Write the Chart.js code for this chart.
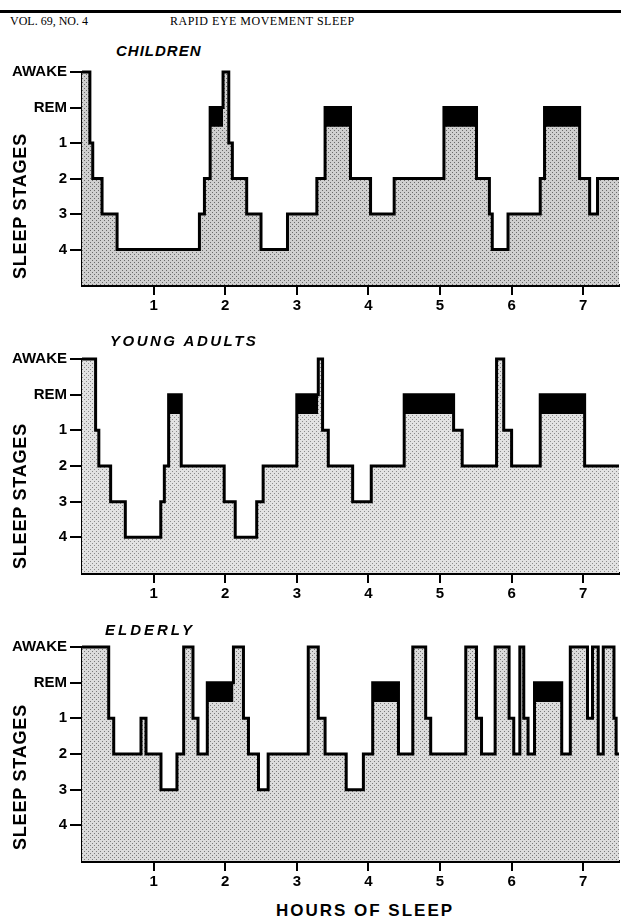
<!DOCTYPE html>
<html>
<head>
<meta charset="utf-8">
<title>Rapid eye movement sleep</title>
<script src="https://cdn.jsdelivr.net/npm/chart.js@4.4.1/dist/chart.umd.min.js"></script>
<style>
  body { margin: 0; background: #fff; }
  #page { position: relative; width: 621px; height: 920px; overflow: hidden; color: #000;
          font-family: "Liberation Sans", Arial, sans-serif; }
  .rule { position: absolute; left: 0; top: 10px; width: 621px; height: 3px; background: #000; }
  .head { position: absolute; top: 14px; font-family: "Liberation Serif", serif; font-size: 12px; line-height: 14px; }
  .panelTitle { position: absolute; font-weight: bold; font-style: italic; font-size: 15px; line-height: 16px; z-index: 2; }
  .axisTitle { position: absolute; font-weight: bold; white-space: nowrap; z-index: 2; }
  .ytitle { font-size: 18px; letter-spacing: 0.8px; transform: translate(-50%, -50%) rotate(-90deg); }
  .xtitle { font-size: 17px; letter-spacing: 2px; transform: translate(-50%, -50%); }
  canvas { position: absolute; left: 0; }
</style>
</head>
<body>
<div id="page">
  <div class="rule"></div>
  <div class="head" style="left:10px">VOL. 69, NO. 4</div>
  <div class="head" style="left:170px; letter-spacing:0.5px">RAPID EYE MOVEMENT SLEEP</div>

  <div class="panelTitle" style="left:116px; top:43px; letter-spacing:1px">CHILDREN</div>
  <div class="panelTitle" style="left:110px; top:333px; letter-spacing:2.5px">YOUNG ADULTS</div>
  <div class="panelTitle" style="left:105px; top:622px; letter-spacing:3px">ELDERLY</div>

  <div class="axisTitle ytitle" style="left:20px; top:206px">SLEEP STAGES</div>
  <div class="axisTitle ytitle" style="left:20px; top:496px">SLEEP STAGES</div>
  <div class="axisTitle ytitle" style="left:20px; top:777px">SLEEP STAGES</div>
  <div class="axisTitle xtitle" style="left:365px; top:911px">HOURS OF SLEEP</div>

  <canvas id="children" width="621" height="257" style="top:60px"></canvas>
  <canvas id="young" width="621" height="258" style="top:347px"></canvas>
  <canvas id="elderly" width="621" height="258" style="top:635px"></canvas>
</div>

<script>
// Axis categories and ticks
const stageLabels = ['AWAKE', 'REM', '1', '2', '3', '4'];
const hourTicks = [1, 2, 3, 4, 5, 6, 7];
const hoursMax = 7.5;

// Each night: the hour a stage starts, and the stage (held until the next entry)
const childrenTimes = [0, 0.11, 0.15, 0.28, 0.49, 1.64, 1.71, 1.79, 1.97, 2.05, 2.10, 2.30, 2.50, 2.87,
  3.28, 3.395, 3.75, 4.03, 4.36, 5.055, 5.51, 5.69, 5.73, 5.95, 6.40, 6.46, 6.95, 7.09, 7.20];
const childrenStages = ['AWAKE', '1', '2', '3', '4', '3', '2', 'REM', 'AWAKE', '1', '2', '3', '4', '3',
  '2', 'REM', '2', '3', '2', 'REM', '2', '3', '4', '3', '2', 'REM', '2', '3', '2'];

const youngTimes = [0, 0.19, 0.235, 0.40, 0.605, 1.10, 1.15, 1.21, 1.386, 1.986, 2.14, 2.44, 2.53, 3.0,
  3.30, 3.36, 3.44, 3.78, 4.04, 4.50, 5.19, 5.31, 5.79, 5.89, 6.0, 6.40, 7.02];
const youngStages = ['AWAKE', '1', '2', '3', '4', '3', '2', 'REM', '2', '3', '4', '3', '2', 'REM',
  'AWAKE', '1', '2', '3', '2', 'REM', '1', '2', 'AWAKE', '1', '2', 'REM', '2'];

const elderlyTimes = [0, 0.373, 0.443, 0.824, 0.894, 1.103, 1.326, 1.42, 1.55, 1.62, 1.75, 2.115, 2.255,
  2.325, 2.465, 2.60, 3.16, 3.30, 3.395, 3.69, 3.93, 4.06, 4.42, 4.62, 4.80, 4.87, 5.36, 5.51, 5.58,
  5.77, 5.965, 6.03, 6.115, 6.17, 6.23, 6.32, 6.70, 6.82, 7.06, 7.13, 7.21, 7.28, 7.43, 7.46];
const elderlyStages = ['AWAKE', '1', '2', '1', '2', '3', '2', 'AWAKE', '1', '2', 'REM', 'AWAKE', '1',
  '2', '3', '2', 'AWAKE', '1', '2', '3', '2', 'REM', '2', 'AWAKE', '1', '2', 'AWAKE', '1', '2',
  'AWAKE', '1', '2', 'AWAKE', '1', '2', 'REM', '2', 'AWAKE', '1', 'AWAKE', '2', 'AWAKE', '1', '2'];

// how far the black REM band reaches down from the REM line
const REM_BAND = 0.54;

Chart.defaults.font.family = '"Liberation Sans", Arial, sans-serif';
Chart.defaults.color = '#000';

// --- helpers ---

function stipple(ctx, bg, dot) {
  const tile = document.createElement('canvas');
  tile.width = 4;
  tile.height = 4;
  const g = tile.getContext('2d');
  g.fillStyle = bg;
  g.fillRect(0, 0, 4, 4);
  g.fillStyle = dot;
  g.fillRect(0, 0, 1, 1);
  g.fillRect(2, 2, 1, 1);
  return ctx.createPattern(tile, 'repeat');
}

function hypnogram(times, stages) {
  const pts = times.map((t, i) => ({ x: t, y: stageLabels.indexOf(stages[i]) }));
  pts.push({ x: hoursMax, y: pts[pts.length - 1].y });
  return pts;
}

function remPeriods(times, stages) {
  const out = [];
  stages.forEach((s, i) => {
    if (s === 'REM') out.push([times[i], i + 1 < times.length ? times[i + 1] : hoursMax]);
  });
  return out;
}

function drawPanel(id, times, stages, bg, dot) {
  const canvas = document.getElementById(id);
  const ctx = canvas.getContext('2d');

  const datasets = [{
    data: hypnogram(times, stages),
    stepped: true,
    borderColor: '#000',
    borderWidth: 3,
    borderJoinStyle: 'miter',
    backgroundColor: stipple(ctx, bg, dot),
    fill: { value: 6 },
    pointRadius: 0,
    clip: 6,
    order: 2
  }];

  // black REM bands on top of the stippled area
  remPeriods(times, stages).forEach(([start, end]) => {
    datasets.push({
      data: [{ x: start, y: 1 }, { x: end, y: 1 }],
      borderColor: '#000',
      borderWidth: 1,
      backgroundColor: '#000',
      fill: { value: 1 + REM_BAND },
      pointRadius: 0,
      clip: 6,
      order: 1
    });
  });

  return new Chart(ctx, {
    type: 'line',
    data: { datasets },
    options: {
      responsive: false,
      animation: false,
      events: [],
      layout: { padding: { top: 12, right: 2, left: 0, bottom: 0 } },
      plugins: { legend: { display: false }, tooltip: { enabled: false } },
      scales: {
        x: {
          type: 'linear',
          min: 0,
          max: hoursMax,
          afterBuildTicks: s => { s.ticks = hourTicks.map(v => ({ value: v })); },
          afterFit: s => { s.height = 32; },
          grid: { drawOnChartArea: false, tickLength: 10, color: '#000', lineWidth: 2 },
          border: { color: '#000', width: 3 },
          ticks: { font: { size: 15, weight: 'bold' }, padding: 2, maxRotation: 0 }
        },
        y: {
          type: 'linear',
          min: 0,
          max: 6,
          reverse: true,
          afterBuildTicks: s => { s.ticks = stageLabels.map((l, i) => ({ value: i })); },
          afterFit: s => { s.width = 82; },
          grid: { drawOnChartArea: false, tickLength: 12, color: '#000', lineWidth: 2 },
          border: { color: '#000', width: 3 },
          ticks: {
            font: { size: 15, weight: 'bold' },
            padding: 3,
            callback: v => stageLabels[v]
          }
        }
      }
    }
  });
}

drawPanel('children', childrenTimes, childrenStages, '#cfcfcf', '#6a6a6a');
drawPanel('young', youngTimes, youngStages, '#e2e2e2', '#8a8a8a');
drawPanel('elderly', elderlyTimes, elderlyStages, '#dcdcdc', '#7a7a7a');
</script>
</body>
</html>
